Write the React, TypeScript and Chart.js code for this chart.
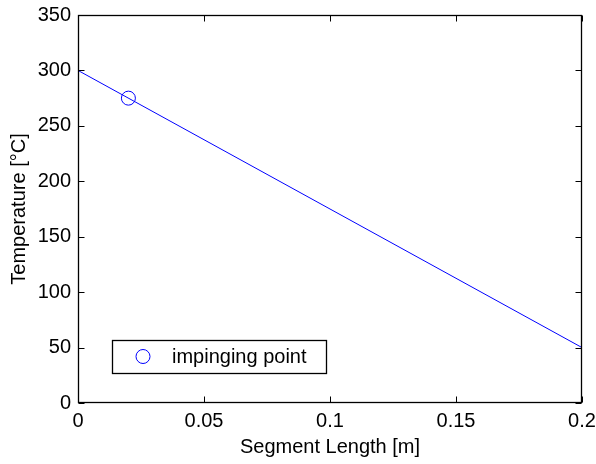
import React, { useEffect, useRef } from "react";
import { Chart, registerables } from "chart.js";

Chart.register(...registerables);

// ---- data ----
const lineX = [0, 0.2];
const lineY = [300, 50];
const markerX = [0.02];
const markerY = [275];
const markerLabel = "impinging point";
const xTickValues = [0, 0.05, 0.1, 0.15, 0.2];
const xTickLabels = ["0", "0.05", "0.1", "0.15", "0.2"];
const yTickValues = [0, 50, 100, 150, 200, 250, 300, 350];
const yTickLabels = ["0", "50", "100", "150", "200", "250", "300", "350"];
const xTitle = "Segment Length [m]";
const yTitle = "Temperature [°C]";

const FONT = "'Liberation Sans', Arial, Helvetica, sans-serif";
const BLUE = "#0000ff";

const boxPlugin = {
  id: "matlabBox",
  afterDraw(chart: any) {
    const { ctx, chartArea, scales } = chart;
    const l = Math.round(chartArea.left) + 0.5;
    const r = Math.round(chartArea.right) - 0.5;
    const t = Math.round(chartArea.top) + 0.5;
    const b = Math.round(chartArea.bottom) - 0.5;
    ctx.save();
    ctx.strokeStyle = "#000";
    ctx.lineWidth = 1;
    const tl = 6;
    ctx.beginPath();
    scales.x.ticks.forEach((tk: any) => {
      const px = Math.round(scales.x.getPixelForValue(tk.value)) + 0.5;
      ctx.moveTo(px, b);
      ctx.lineTo(px, b - tl);
      ctx.moveTo(px, t);
      ctx.lineTo(px, t + tl);
    });
    scales.y.ticks.forEach((tk: any) => {
      const py = Math.round(scales.y.getPixelForValue(tk.value)) + 0.5;
      ctx.moveTo(l, py);
      ctx.lineTo(l + tl, py);
      ctx.moveTo(r, py);
      ctx.lineTo(r - tl, py);
    });
    ctx.stroke();
    ctx.lineWidth = 1.3;
    ctx.strokeRect(l, t, r - l, b - t);

    // legend box
    const lx = chartArea.left + 34;
    const ly = chartArea.top + 325;
    const lw = 214;
    const lh = 33;
    ctx.fillStyle = "#fff";
    ctx.fillRect(lx, ly, lw, lh);
    ctx.lineWidth = 1.3;
    ctx.strokeStyle = "#000";
    ctx.strokeRect(Math.round(lx) + 0.5, Math.round(ly) + 0.5, lw, lh);
    const ds = chart.data.datasets[1];
    ctx.beginPath();
    ctx.strokeStyle = ds.borderColor;
    ctx.lineWidth = 1;
    ctx.arc(lx + 31, ly + lh / 2, ds.pointRadius, 0, Math.PI * 2);
    ctx.stroke();
    ctx.fillStyle = "#000";
    ctx.font = `20px ${FONT}`;
    ctx.textBaseline = "middle";
    ctx.textAlign = "left";
    ctx.fillText(ds.label, lx + 60, ly + lh / 2 + 1);
    ctx.restore();
  },
};

export default function App() {
  const ref = useRef<HTMLCanvasElement | null>(null);
  useEffect(() => {
    document.body.style.margin = "0";
    const canvas = ref.current;
    if (!canvas) return;
    const chart = new Chart(canvas, {
      type: "scatter",
      data: {
        datasets: [
          {
            label: "line",
            data: lineX.map((x, i) => ({ x, y: lineY[i] })),
            showLine: true,
            borderColor: BLUE,
            borderWidth: 1,
            pointRadius: 0,
            backgroundColor: BLUE,
          },
          {
            label: markerLabel,
            data: markerX.map((x, i) => ({ x, y: markerY[i] })),
            showLine: false,
            borderColor: BLUE,
            borderWidth: 1,
            pointRadius: 7,
            pointStyle: "circle",
            backgroundColor: "rgba(0,0,0,0)",
          },
        ],
      },
      options: {
        animation: false,
        responsive: false,
        devicePixelRatio: 1,
        layout: { padding: { left: 0, top: 15, right: 14, bottom: 0 } },
        plugins: { legend: { display: false }, tooltip: { enabled: false } },
        scales: {
          x: {
            type: "linear",
            min: 0,
            max: 0.2,
            afterFit: (s: any) => {
              s.height = 61;
              s.paddingLeft = 0;
              s.paddingRight = 0;
            },
            afterBuildTicks: (s: any) => {
              s.ticks = xTickValues.map((v) => ({ value: v }));
            },
            ticks: {
              color: "#000",
              font: { family: FONT, size: 20 },
              padding: 6,
              maxRotation: 0,
              autoSkip: false,
              callback: (v: any) => {
                const i = xTickValues.findIndex((t) => Math.abs(t - Number(v)) < 1e-9);
                return i >= 0 ? xTickLabels[i] : "";
              },
            },
            grid: { display: false, drawTicks: false },
            border: { display: false },
            title: {
              display: true,
              text: xTitle,
              color: "#000",
              font: { family: FONT, size: 20 },
              padding: { top: 0, bottom: 5 },
            },
          },
          y: {
            type: "linear",
            min: 0,
            max: 350,
            afterFit: (s: any) => {
              s.width = 78;
              s.paddingTop = 0;
              s.paddingBottom = 0;
            },
            afterBuildTicks: (s: any) => {
              s.ticks = yTickValues.map((v) => ({ value: v }));
            },
            ticks: {
              color: "#000",
              font: { family: FONT, size: 20 },
              padding: 7,
              autoSkip: false,
              callback: (v: any) => {
                const i = yTickValues.findIndex((t) => Math.abs(t - Number(v)) < 1e-9);
                return i >= 0 ? yTickLabels[i] : "";
              },
            },
            grid: { display: false, drawTicks: false },
            border: { display: false },
            title: {
              display: true,
              text: yTitle,
              color: "#000",
              font: { family: FONT, size: 20 },
              padding: { top: 7, bottom: 0 },
            },
          },
        },
      },
      plugins: [boxPlugin],
    } as any);
    return () => chart.destroy();
  }, []);
  return (
    <div style={{ position: "absolute", left: 0, top: 0, width: 596, height: 464, background: "#fff" }}>
      <canvas ref={ref} width={596} height={464} style={{ display: "block" }} />
    </div>
  );
}
